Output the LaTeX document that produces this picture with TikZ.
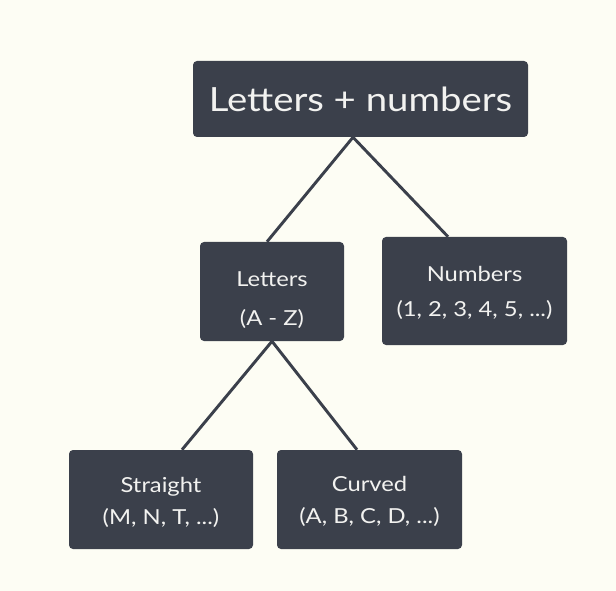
\documentclass[tikz,border=0pt]{standalone}
\usepackage{fontspec}
\setmainfont[FakeStretch=1.15]{Lato}
\usetikzlibrary{calc}
\definecolor{paper}{HTML}{FDFDF4}
\definecolor{slate}{HTML}{3B404B}
\definecolor{ink}{HTML}{F2F2F0}
\tikzset{
  box/.style={fill=slate, rounded corners=3pt, inner sep=0pt},
  txt/.style={text=ink, align=center, inner sep=0pt},
  big/.style={txt, font=\fontsize{25}{30}\selectfont},
  small/.style={txt, font=\fontsize{15.5}{#1}\selectfont},
  small/.default=26pt,
  link/.style={draw=slate, line width=2.2pt}
}
\begin{document}
\begin{tikzpicture}[x=0.75pt, y=-0.75pt]
  \fill[paper] (0,0) rectangle (616,591);
  \useasboundingbox (0,0) rectangle (616,591);

  \node[box, big, minimum width=335*0.75pt, minimum height=76*0.75pt] (root) at (360.5,99) {Letters + numbers};
  \node[box, minimum width=144*0.75pt, minimum height=99*0.75pt,
        label={[small=29pt, yshift=-6.4pt]center:Letters\\(A - Z)}] (letters) at (272,291.5) {};
  \node[box, minimum width=185*0.75pt, minimum height=108*0.75pt,
        label={[small=26.5pt, yshift=-1.5pt]center:Numbers\\(1, 2, 3, 4, 5, ...)}] (numbers) at (474.5,291) {};
  \node[box, minimum width=184*0.75pt, minimum height=99*0.75pt,
        label={[small=24pt, yshift=-2.2pt]center:Straight\\(M, N, T, ...)}] (straight) at (161,499.5) {};
  \node[box, minimum width=185*0.75pt, minimum height=99*0.75pt,
        label={[small=24pt, yshift=-1.5pt]center:Curved\\(A, B, C, D, ...)}] (curved) at (369.5,499.5) {};

  \coordinate (top) at ($(root.south)+(-7.5,0)$);
  \draw[link] (top) -- ($(letters.north)+(-5,0)$);
  \draw[link] (top) -- ($(numbers.north)+(-26.5,0)$);
  \draw[link] (letters.south) -- ($(straight.north)+(21,0)$);
  \draw[link] (letters.south) -- ($(curved.north)+(-12.5,0)$);
\end{tikzpicture}
\end{document}
